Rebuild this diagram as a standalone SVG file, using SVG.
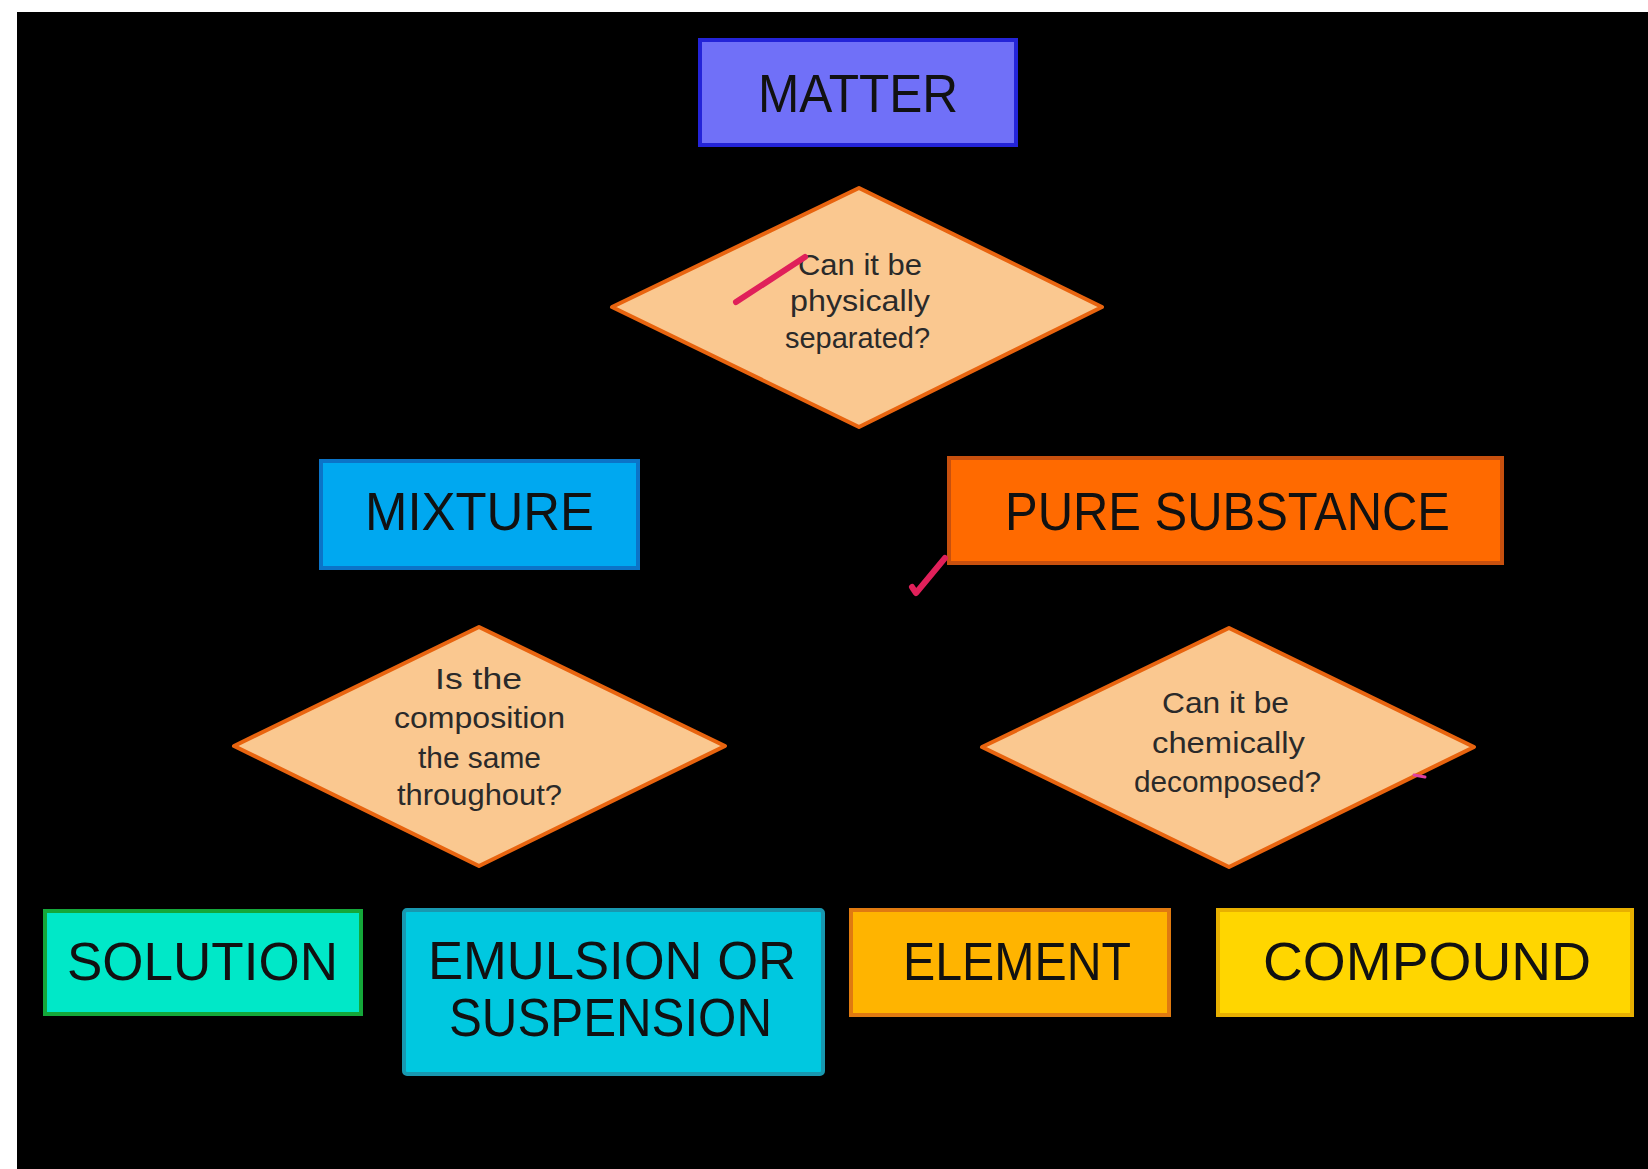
<svg xmlns="http://www.w3.org/2000/svg" width="1648" height="1169" viewBox="0 0 1648 1169">
<style>
.box{stroke-width:4}
.dia{fill:#FAC890;stroke:#E8640F;stroke-width:4;stroke-linejoin:round}
.big{font-family:"Liberation Sans",Arial,sans-serif;font-size:54px;fill:#111}
.small{font-family:"Liberation Sans",Arial,sans-serif;font-size:30px;fill:#2a2a2a}
.mark{fill:none;stroke:#E0205A;stroke-width:6;stroke-linecap:round;stroke-linejoin:round}
</style>
<rect x="0" y="0" width="1648" height="1169" fill="#ffffff"/>
<rect x="17" y="12" width="1631" height="1157" fill="#000000"/>
<g id="connectors"></g>
<g id="matter">
<rect class="box" x="700" y="40" width="316" height="105" fill="#7070F8" stroke="#2424D8"/>
<text class="big" x="758" y="112" textLength="200" lengthAdjust="spacingAndGlyphs">MATTER</text>
</g>
<g id="q-physical">
<polygon class="dia" points="612,307 859,188 1102,307 859,427"/>
<text class="small" x="798" y="275" textLength="124" lengthAdjust="spacingAndGlyphs">Can it be</text>
<text class="small" x="790" y="311" textLength="140" lengthAdjust="spacingAndGlyphs">physically</text>
<text class="small" x="785" y="348" textLength="145" lengthAdjust="spacingAndGlyphs">separated?</text>
</g>
<g id="mixture">
<rect class="box" x="321" y="461" width="317" height="107" fill="#00A8F0" stroke="#0B74C8"/>
<text class="big" x="365" y="530" textLength="229" lengthAdjust="spacingAndGlyphs">MIXTURE</text>
</g>
<g id="pure-substance">
<rect class="box" x="949" y="458" width="553" height="105" fill="#FF6A00" stroke="#C8500E"/>
<text class="big" x="1005" y="530" textLength="445" lengthAdjust="spacingAndGlyphs">PURE SUBSTANCE</text>
</g>
<g id="q-composition">
<polygon class="dia" points="234,746 479,627 725,746 479,866"/>
<text class="small" x="435" y="689" textLength="87" lengthAdjust="spacingAndGlyphs">Is the</text>
<text class="small" x="394" y="728" textLength="171" lengthAdjust="spacingAndGlyphs">composition</text>
<text class="small" x="418" y="768" textLength="123" lengthAdjust="spacingAndGlyphs">the same</text>
<text class="small" x="397" y="805" textLength="165" lengthAdjust="spacingAndGlyphs">throughout?</text>
</g>
<g id="q-chemical">
<polygon class="dia" points="982,747 1229,628 1474,747 1229,867"/>
<text class="small" x="1162" y="713" textLength="127" lengthAdjust="spacingAndGlyphs">Can it be</text>
<text class="small" x="1152" y="753" textLength="153" lengthAdjust="spacingAndGlyphs">chemically</text>
<text class="small" x="1134" y="792" textLength="187" lengthAdjust="spacingAndGlyphs">decomposed?</text>
</g>
<g id="solution">
<rect class="box" x="45" y="911" width="316" height="103" fill="#00E8C8" stroke="#14A83A"/>
<text class="big" x="67" y="980" textLength="271" lengthAdjust="spacingAndGlyphs">SOLUTION</text>
</g>
<g id="emulsion-suspension">
<rect class="box" x="404" y="910" width="419" height="164" rx="3" fill="#00C8E0" stroke="#1898B0"/>
<text class="big" x="428" y="979" textLength="368" lengthAdjust="spacingAndGlyphs">EMULSION OR</text>
<text class="big" x="449" y="1036" textLength="323" lengthAdjust="spacingAndGlyphs">SUSPENSION</text>
</g>
<g id="element">
<rect class="box" x="851" y="910" width="318" height="105" fill="#FFB400" stroke="#E07A10"/>
<text class="big" x="903" y="980" textLength="228" lengthAdjust="spacingAndGlyphs">ELEMENT</text>
</g>
<g id="compound">
<rect class="box" x="1218" y="910" width="414" height="105" fill="#FFD600" stroke="#E8B000"/>
<text class="big" x="1263" y="980" textLength="328" lengthAdjust="spacingAndGlyphs">COMPOUND</text>
</g>
<g id="annotations">
<path class="mark" d="M736 302 L805 257"/>
<path class="mark" d="M912 587 L916 593 L945 558"/>
<path d="M1414 775 L1425 777" fill="none" stroke="#E040A0" stroke-width="3" stroke-linecap="round"/>
</g>
</svg>
